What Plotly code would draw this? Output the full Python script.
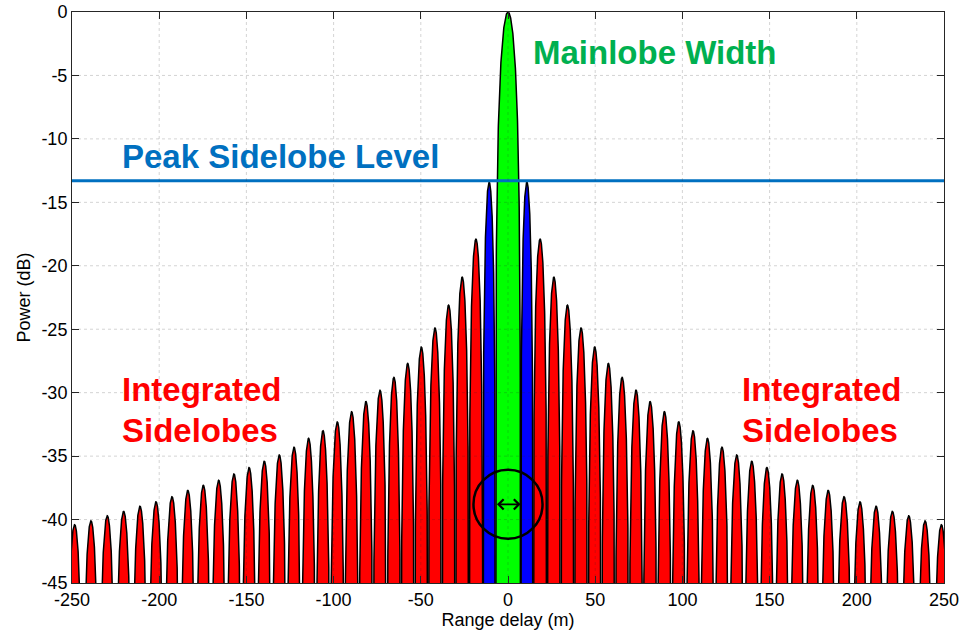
import numpy as np
import plotly.graph_objects as go

# Compressed-pulse response: peaks of the sidelobes on the positive-delay side
# (range delay in m) and their power levels (dB). The response is symmetric.
sidelobe_pos = [10.5, 18.35, 26.4, 34.0, 41.9, 49.7, 57.5, 65.4, 73.4, 81.4,
                89.7, 97.9, 106.1, 114.3, 122.7, 131.1, 139.7, 148.5, 157.1,
                165.9, 174.7, 183.5, 192.7, 201.8, 211.0, 220.4, 229.8, 239.1,
                248.5]
sidelobe_db = [-13.4, -17.9, -20.9, -23.1, -24.9, -26.4, -27.7, -28.8, -29.8,
               -30.7, -31.5, -32.3, -33.0, -33.6, -34.3, -34.9, -35.4, -35.9,
               -36.4, -36.9, -37.3, -37.7, -38.2, -38.6, -38.95, -39.35, -39.7,
               -40.1, -40.4]
mainlobe_null = 7.2      # first null of the mainlobe (m)
mainlobe_peak_db = 0.0
psl_db = -13.3           # peak sidelobe level (dB)

x_ticks = [-250, -200, -150, -100, -50, 0, 50, 100, 150, 200, 250]
y_ticks = [-45, -40, -35, -30, -25, -20, -15, -10, -5, 0]

X_RANGE = [-250, 250]
Y_RANGE = [-45, 0]

C_MAIN = "#00FF00"
C_FIRST = "#0000FF"
C_SIDE = "#FF0000"
C_PSL = "#0070C0"
C_MAIN_TXT = "#00B050"
AX = "#262626"
FONT = "Liberation Sans, Arial, sans-serif"

# lobe boundaries (nulls) half way between neighbouring peaks
nulls = [mainlobe_null]
for a, b in zip(sidelobe_pos[:-1], sidelobe_pos[1:]):
    nulls.append((a + b) / 2)
nulls.append(sidelobe_pos[-1] + (sidelobe_pos[-1] - sidelobe_pos[-2]) / 2)


def lobe(n0, n1, peak_db, npts=260):
    """One lobe between two nulls: half-sine amplitude arch, in dB."""
    xs = np.linspace(n0, n1, npts)
    amp = 10 ** (peak_db / 20) * np.sin(np.pi * (xs - n0) / (n1 - n0))
    ys = 20 * np.log10(np.maximum(np.abs(amp), 1e-6))
    ys = np.maximum(ys, -80)
    return xs, ys


fig = go.Figure()


def add_lobe(xs, ys, color):
    fig.add_trace(go.Scatter(
        x=xs, y=ys, mode="lines", fill="toself", fillcolor=color,
        line=dict(color="black", width=1.5), hoverinfo="skip",
        showlegend=False))


# sidelobes, both sides
for k, pk in enumerate(sidelobe_db):
    color = C_FIRST if k == 0 else C_SIDE
    xs, ys = lobe(nulls[k], nulls[k + 1], pk)
    add_lobe(xs, ys, color)
    add_lobe(-xs[::-1], ys[::-1], color)

# mainlobe
xs, ys = lobe(-mainlobe_null, mainlobe_null, mainlobe_peak_db)
add_lobe(xs, ys, C_MAIN)

# peak sidelobe level line
fig.add_trace(go.Scatter(
    x=X_RANGE, y=[psl_db, psl_db], mode="lines",
    line=dict(color=C_PSL, width=3.2), hoverinfo="skip", showlegend=False))

# dotted grid drawn over the filled lobes
grid = dict(color="rgba(38,38,38,0.2)", width=1, dash="dot")
for xv in x_ticks[1:-1]:
    fig.add_shape(type="line", xref="x", yref="y", x0=xv, x1=xv,
                  y0=Y_RANGE[0], y1=Y_RANGE[1], line=grid, layer="above")
for yv in y_ticks[1:-1]:
    fig.add_shape(type="line", xref="x", yref="y", x0=X_RANGE[0], x1=X_RANGE[1],
                  y0=yv, y1=yv, line=grid, layer="above")

# circle marking the mainlobe width, with a double arrow across it
circ_y = -38.8
fig.add_shape(type="circle", xref="x", yref="y",
              x0=-19.8, x1=19.8, y0=circ_y - 2.72, y1=circ_y + 2.72,
              line=dict(color="black", width=2.5), layer="above")
fig.add_annotation(x=mainlobe_null, y=circ_y, ax=-mainlobe_null, ay=circ_y,
                   xref="x", yref="y", axref="x", ayref="y", text="",
                   showarrow=True, arrowhead=4, arrowside="end+start",
                   arrowsize=1.1, arrowwidth=1.8, arrowcolor="black",
                   standoff=0, startstandoff=0)

big = dict(family=FONT, size=33)
fig.add_annotation(x=-222.3, y=-11.35, text="<b>Peak Sidelobe Level</b>",
                   showarrow=False, xanchor="left", yanchor="middle",
                   font=dict(**big, color=C_PSL))
fig.add_annotation(x=13.2, y=-3.23, text="<b>Mainlobe Width</b>",
                   showarrow=False, xanchor="left", yanchor="middle",
                   font=dict(**big, color=C_MAIN_TXT))
for x0 in (-222.5, 133.0):
    fig.add_annotation(x=x0, y=-29.75, text="<b>Integrated</b>",
                       showarrow=False, xanchor="left", yanchor="middle",
                       font=dict(**big, color=C_SIDE))
    fig.add_annotation(x=x0, y=-32.95, text="<b>Sidelobes</b>",
                       showarrow=False, xanchor="left", yanchor="middle",
                       font=dict(**big, color=C_SIDE))

axis_common = dict(
    automargin=False,
    showgrid=False, zeroline=False, showline=True, linecolor=AX, linewidth=1,
    mirror="ticks", ticks="inside", ticklen=7, tickwidth=1, tickcolor=AX,
    tickfont=dict(family=FONT, size=18, color="black"),
    title_font=dict(family=FONT, size=18, color="black"),
)

fig.update_layout(
    width=962, height=635,
    margin=dict(l=72, r=18, t=12, b=52, autoexpand=False),
    paper_bgcolor="white", plot_bgcolor="white",
    xaxis=dict(range=X_RANGE, tickvals=x_ticks,
               ticktext=[str(v) for v in x_ticks],
               title=dict(text="Range delay (m)", standoff=4),
               **axis_common),
    yaxis=dict(range=Y_RANGE, tickvals=y_ticks,
               ticktext=[str(v) for v in y_ticks],
               title=dict(text="Power (dB)", standoff=6),
               **axis_common),
    showlegend=False,
)

fig.write_html("out.html")
